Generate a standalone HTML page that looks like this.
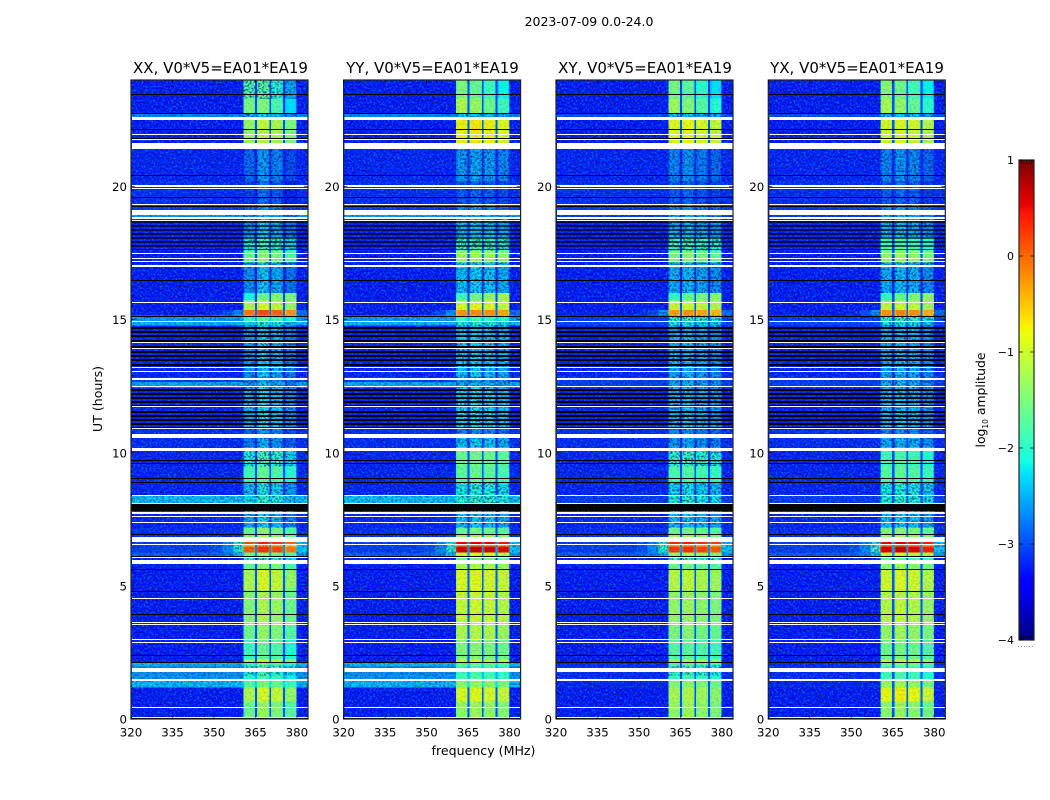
<!DOCTYPE html>
<html lang="en">
<head>
<meta charset="utf-8">
<title>2023-07-09 amplitude waterfall</title>
<style>
html,body{margin:0;padding:0;background:#fff;}
body{width:1050px;height:800px;overflow:hidden;}
svg{display:block;}
text{font-family:"DejaVu Sans","Liberation Sans",sans-serif;fill:#000;}
</style>
</head>
<body>
<svg id="figure" xmlns="http://www.w3.org/2000/svg" width="1050" height="800" viewBox="0 0 1050 800">
  <defs>
    <filter id="speckle-light" x="0" y="0" width="1" height="1" color-interpolation-filters="sRGB">
      <feTurbulence type="fractalNoise" baseFrequency="0.5" numOctaves="2" seed="7"/>
      <feColorMatrix type="matrix" values="0 0 0 0 0.05  0 0 0 0 0.5  0 0 0 0 1  3.4 0 0 0 -1.45"/>
    </filter>
    <filter id="speckle-dark" x="0" y="0" width="1" height="1" color-interpolation-filters="sRGB">
      <feTurbulence type="fractalNoise" baseFrequency="0.48" numOctaves="2" seed="23"/>
      <feColorMatrix type="matrix" values="0 0 0 0 0  0 0 0 0 0  0 0 0 0 0.35  0 3.4 0 0 -1.5"/>
    </filter>
  </defs>
  <text x="589" y="26" font-size="12.5" text-anchor="middle">2023-07-09 0.0-24.0</text>
  <text x="220.5" y="73" font-size="15" text-anchor="middle">XX, V0*V5=EA01*EA19</text>
  <text x="432.5" y="73" font-size="15" text-anchor="middle">YY, V0*V5=EA01*EA19</text>
  <text x="645" y="73" font-size="15" text-anchor="middle">XY, V0*V5=EA01*EA19</text>
  <text x="857" y="73" font-size="15" text-anchor="middle">YX, V0*V5=EA01*EA19</text>
  <text transform="translate(102,399) rotate(-90)" font-size="12.6" text-anchor="middle">UT (hours)</text>
  <text x="483.5" y="755" font-size="12.6" text-anchor="middle">frequency (MHz)</text>
  <text transform="translate(985,400) rotate(-90)" font-size="12.4" text-anchor="middle">log<tspan font-size="7.5" dy="3">10</tspan><tspan dy="-3"> amplitude</tspan></text>
  <text x="1026" y="647" font-size="6" fill="#555" text-anchor="middle" letter-spacing="0.8">......</text>
  <g id="panels"></g>
  <g id="colorbar"></g>
</svg>
<script>
// ---- chart data (UT hours, MHz, log10 amplitude) ----
const panelNames = ['xx', 'yy', 'xy', 'yx'];
const freqTicks = [320, 335, 350, 365, 380];
const utTicks = [0, 5, 10, 15, 20];
const colorbarTicks = [-4, -3, -2, -1, 0, 1];
const windowEdgesMHz = [[360.6, 364.8], [365.6, 370], [370.6, 375], [375.7, 379.9]];
const windowOffsetsXX = [-0.1, 0.15, 0.02, -0.25];
const windowOffsetsYY = [0.05, 0.1, 0.05, -0.05];
const windowOffsetsXY = [0.05, 0.1, 0, -0.1];
const windowOffsetsYX = [0.05, 0.12, 0.05, -0.12];

const segmentEdgesUT = [0, 0.65, 1.18, 1.45, 1.65, 2.0, 2.12, 2.25, 3.0, 3.6, 4.85, 5.6, 5.9, 6.05, 6.25, 6.47, 6.55, 6.65, 6.9, 7.2, 7.7, 8.1, 8.38, 8.9, 9.5, 10.2, 10.7, 10.95, 12.45, 12.65, 12.85, 14.78, 14.94, 15.15, 15.37, 15.72, 16.0, 17.15, 17.6, 18.1, 18.8, 19.1, 19.35, 20.2, 21.45, 21.6, 22.6, 22.75, 23.3, 24];
const backgroundParallel = [-3.3, -3.3, -2.35, -2.55, -2.6, -2.35, -3.3, -3.3, -3.3, -3.3, -3.3, -3.3, -3.3, -2.9, -3.1, -3.1, -3.1, -3.2, -3.2, -3.25, -3.2, -2.3, -3.25, -3.25, -3.25, -3.2, -3.2, -3.25, -2.45, -3.1, -3.25, -2.35, -2.5, -3.3, -3.3, -3.3, -3.3, -3.3, -3.25, -3.25, -2.5, -3.1, -3.2, -3.25, -2.95, -3.3, -2.65, -3.3, -3.3];
const backgroundCross = [-3.3, -3.3, -3.25, -3.2, -3.2, -3.2, -3.3, -3.3, -3.3, -3.3, -3.3, -3.3, -3.3, -2.9, -3.1, -3.1, -3.1, -3.2, -3.2, -3.25, -3.2, -3.1, -3.25, -3.25, -3.25, -3.2, -3.2, -3.25, -3.1, -3.1, -3.25, -3.05, -3.1, -3.3, -3.3, -3.3, -3.3, -3.3, -3.25, -3.25, -3.1, -3.1, -3.2, -3.25, -3.0, -3.3, -3.0, -3.3, -3.3];
const bandLevelsXX = [-1.45, -1.05, -1.6, -1.9, -2.0, -1.7, -1.15, -1.75, -1.45, -1.3, -1.05, -1.5, -2.0, -1.5, 0.15, -0.4, 0.25, -1.3, -1.5, -2.4, -2.4, -2.1, -2.3, -1.75, -2.0, -2.6, -2.7, -2.35, -2.5, -2.6, -2.45, -2.1, -1.8, 0.0, -1.05, -1.6, -2.5, -1.5, -2.0, -2.5, -2.5, -2.7, -2.9, -2.7, -2.7, -1.2, -2.4, -1.7, -1.95];
const bandLevelsYY = [-1.35, -0.95, -1.4, -1.8, -1.9, -1.6, -1.05, -1.5, -1.2, -1.05, -0.95, -1.2, -1.6, -1.0, 0.6, -0.3, 0.5, -1.3, -1.6, -2.4, -2.4, -2.05, -2.15, -1.7, -1.6, -2.4, -2.7, -2.3, -2.5, -2.6, -2.4, -2.1, -1.9, -0.3, -0.95, -1.5, -2.4, -1.3, -1.95, -2.45, -2.5, -2.7, -2.9, -2.6, -2.7, -0.8, -2.4, -1.5, -1.8];
const bandLevelsXY = [-1.35, -1.25, -1.45, -1.9, -2.0, -1.7, -1.2, -1.75, -1.5, -1.35, -1.15, -1.6, -2.0, -1.3, 0.2, -0.4, 0.3, -1.3, -1.6, -2.4, -2.4, -2.1, -2.3, -1.8, -2.0, -2.6, -2.7, -2.45, -2.5, -2.6, -2.5, -2.2, -2.0, -0.35, -1.05, -1.6, -2.5, -1.5, -1.95, -2.5, -2.5, -2.7, -2.9, -2.7, -2.7, -0.9, -2.4, -1.6, -1.85];
const bandLevelsYX = [-1.4, -0.85, -1.35, -1.85, -1.9, -1.5, -1.1, -1.6, -1.35, -1.15, -1.0, -1.4, -1.8, -1.1, 0.55, -0.2, 0.5, -1.3, -1.5, -2.4, -2.4, -2.1, -2.2, -1.75, -1.9, -2.5, -2.7, -2.45, -2.5, -2.6, -2.5, -2.2, -2.0, -0.3, -1.1, -1.6, -2.5, -1.35, -1.9, -2.5, -2.5, -2.7, -2.9, -2.7, -2.7, -1.0, -2.4, -1.55, -1.75];
const windowTilt = [0, 0, 0, 0, 0, 0, 0, 0, 0, 0, 0, 0, 0, 0, 0, 0, 0, 0, 0, 0, 0, 0, 0, 0, 0, 0, 0, 0, 0, 0, 0, 0, 0, 0, 0, 0.25, 0, 0, 0, 0, 0, 0, 0, 0, 0, 0, 0, -0.2, -0.2];
const shoulderLevels = [null, null, null, null, null, null, null, null, null, null, null, null, null, -2.4, -1.9, -2.0, -2.0, null, null, null, null, null, null, null, null, null, null, null, null, null, null, null, null, -2.6, null, null, null, null, null, null, null, null, null, null, null, null, null, null, null];

const whiteGapStartUT = [0.04, 0.41, 1.43, 1.75, 2.85, 2.95, 3.54, 3.6, 4.5, 5.84, 6.04, 6.53, 6.64, 7.35, 7.61, 7.69, 8.09, 8.37, 10.06, 10.57, 10.88, 11.71, 12.46, 12.72, 13.02, 13.17, 13.88, 14.11, 14.93, 15.65, 16.97, 17.17, 17.29, 17.49, 18.73, 18.79, 18.94, 19.3, 19.89, 20.0, 21.39, 21.56, 21.73, 21.95, 22.48];
const whiteGapEndUT = [0.07, 0.45, 1.5, 1.91, 2.89, 2.99, 3.57, 3.64, 4.54, 5.97, 6.08, 6.56, 6.84, 7.39, 7.64, 7.79, 8.13, 8.41, 10.18, 10.69, 10.92, 11.74, 12.5, 12.82, 13.06, 13.21, 13.92, 14.15, 14.96, 15.68, 17.07, 17.2, 17.32, 17.52, 18.76, 18.87, 19.1, 19.33, 19.93, 20.04, 21.55, 21.63, 21.77, 21.99, 22.6];
const blackLineUT = [0.03, 2.14, 2.39, 3.93, 4.81, 5.65, 6.13, 6.93, 8.9, 9.05, 9.6, 9.72, 15.14, 16.47, 19.27, 19.62, 20.43, 21.82, 22.16, 22.76, 23.48];
const thickBlackLineUT = [10.96, 11.1, 11.26, 11.41, 11.57, 11.81, 11.93, 12.09, 12.24, 12.41, 13.35, 13.51, 13.66, 13.82, 14.01, 14.25, 14.41, 14.57, 14.71];
const dimLineUT = [17.67, 17.75, 17.82, 17.9, 17.97, 18.05, 18.12, 18.2, 18.27, 18.35, 18.42, 18.5, 18.57, 18.65, 18.72];
const blackBlockStartUT = [7.82];
const blackBlockEndUT = [8.07];

// ---- layout and scales ----
const panelLeft = [131, 343.6, 556, 768.3];
const panelWidth = 177, plotTop = 80, plotBottom = 719;
const NS = 'http://www.w3.org/2000/svg';
function xScale(p, mhz) { return panelLeft[p] + (mhz - 320) / 64 * panelWidth; }
function yScale(ut) { return plotBottom - ut / 24 * (plotBottom - plotTop); }
function cbScale(v) { return 640 - (v + 4) / 5 * 480; }
function ramp(t, pts) {
  for (let i = 1; i < pts.length; i++) {
    if (t <= pts[i][0]) {
      const a = pts[i - 1], b = pts[i];
      return a[1] + (b[1] - a[1]) * (t - a[0]) / (b[0] - a[0]);
    }
  }
  return pts[pts.length - 1][1];
}
function jet(v) {
  const t = Math.min(1, Math.max(0, (v + 4) / 5));
  const r = ramp(t, [[0, 0], [0.35, 0], [0.66, 1], [0.89, 1], [1, 0.5]]);
  const g = ramp(t, [[0, 0], [0.125, 0], [0.375, 1], [0.64, 1], [0.91, 0], [1, 0]]);
  const b = ramp(t, [[0, 0.5], [0.11, 1], [0.34, 1], [0.65, 0], [1, 0]]);
  return 'rgb(' + Math.round(r * 255) + ',' + Math.round(g * 255) + ',' + Math.round(b * 255) + ')';
}
function make(tag, attrs, parent) {
  const el = document.createElementNS(NS, tag);
  for (const k in attrs) el.setAttribute(k, attrs[k]);
  parent.appendChild(el);
  return el;
}
function cell(parent, x0, x1, y0, y1, fill) {
  return make('rect', { x: x0, y: y0, width: Math.max(x1 - x0, 0.1), height: Math.max(y1 - y0, 1), fill: fill, 'shape-rendering': 'crispEdges' }, parent);
}

const panelBands = [bandLevelsXX, bandLevelsYY, bandLevelsXY, bandLevelsYX];
const panelOffsets = [windowOffsetsXX, windowOffsetsYY, windowOffsetsXY, windowOffsetsYX];
const panelBackgrounds = [backgroundParallel, backgroundParallel, backgroundCross, backgroundCross];
const panelsRoot = document.getElementById('panels');

panelNames.forEach(function (name, p) {
  const group = make('g', {}, panelsRoot);
  
  
  const right = xScale(p, 384);

  for (let s = 0; s < segmentEdgesUT.length - 1; s++) {
    const y0 = yScale(segmentEdgesUT[s + 1]), y1 = yScale(segmentEdgesUT[s]);
    const bg = panelBackgrounds[p][s];
    const sh = shoulderLevels[s] === null ? bg : shoulderLevels[s];
    const lvl = panelBands[p][s];
    const spans = [
      [320, 349, bg],
      [349, 353, bg + (sh - bg) * 0.1],
      [353, 357, bg + (sh - bg) * 0.4],
      [357, windowEdgesMHz[0][0], sh]
    ];
    windowEdgesMHz.forEach(function (edges, w) {
      const v = lvl + panelOffsets[p][w] + windowTilt[s] * (w - 1.5);
      const inner = 0.5;
      spans.push([edges[0], edges[0] + inner, v - 0.2]);
      spans.push([edges[0] + inner, edges[1] - inner, v]);
      spans.push([edges[1] - inner, edges[1], v - 0.15]);
      if (w < 3) spans.push([edges[1], windowEdgesMHz[w + 1][0], Math.max(bg, bg + (v - bg) * 0.15)]);
    });
    spans.push([windowEdgesMHz[3][1], 384, bg + (sh - bg) * 0.7]);
    spans.forEach(function (sp) {
      const el = cell(group, xScale(p, sp[0]), xScale(p, sp[1]), y0, y1, jet(sp[2]));
      
      
    });
  }

  [[320, 360.6, 1], [360.6, 379.9, 0.2], [379.9, 384, 1]].forEach(function (zone) {
    const zx = xScale(p, zone[0]), zw = xScale(p, zone[1]) - zx;
    const light = make('rect', { x: zx, y: plotTop, width: zw, height: plotBottom - plotTop, filter: 'url(#speckle-light)', opacity: 0.7 * zone[2] }, group);
    
    
    const dark = make('rect', { x: zx, y: plotTop, width: zw, height: plotBottom - plotTop, filter: 'url(#speckle-dark)', opacity: 0.45 * zone[2] }, group);
    
    
  });
  // weak rows are mottled across the spectral windows as well
  for (let s = 0; s < segmentEdgesUT.length - 1; s++) {
    if (panelBands[p][s] >= -1.9) continue;
    const zx = xScale(p, 360.6), zw = xScale(p, 379.9) - zx;
    const y0 = yScale(segmentEdgesUT[s + 1]), y1 = yScale(segmentEdgesUT[s]);
    const mottle = make('rect', { x: zx, y: y0, width: zw, height: y1 - y0, filter: 'url(#speckle-dark)', opacity: 0.6 }, group);
    
    
  }

  dimLineUT.forEach(function (ut) {
    const y = Math.round(yScale(ut));
    const el = cell(group, panelLeft[p], right, y, y + 1, '#000');
    el.setAttribute('opacity', 0.65);
    
    
  });
  blackLineUT.forEach(function (ut) {
    const y = Math.round(yScale(ut));
    const el = cell(group, panelLeft[p], right, y, y + 1, '#000');
    
    
  });
  thickBlackLineUT.forEach(function (ut) {
    const y = Math.round(yScale(ut));
    const el = cell(group, panelLeft[p], right, y, y + 2, '#000');
    
    
  });
  blackBlockStartUT.forEach(function (ut, i) {
    const el = cell(group, panelLeft[p], right, yScale(blackBlockEndUT[i]), yScale(ut), '#000');
    
    
  });
  whiteGapStartUT.forEach(function (ut, i) {
    const y0 = Math.round(yScale(whiteGapEndUT[i]));
    const y1 = Math.max(y0 + 1, Math.round(yScale(ut)));
    const el = cell(group, panelLeft[p] + 1, right, y0, y1, '#fff');
    
    
  });

  const frame = make('rect', { x: panelLeft[p], y: plotTop, width: panelWidth, height: plotBottom - plotTop, fill: 'none', stroke: '#222', 'stroke-width': 1.2 }, group);
  
  

  freqTicks.forEach(function (f) {
    const x = xScale(p, f);
    const t1 = make('line', { x1: x, x2: x, y1: plotBottom, y2: plotBottom - 4, stroke: '#000', 'stroke-width': 0.6 }, group);
    
    
    const t2 = make('line', { x1: x, x2: x, y1: plotTop, y2: plotTop + 4, stroke: '#000', 'stroke-width': 0.6 }, group);
    
    
    const label = make('text', { x: x, y: 736.5, 'font-size': 11.8, 'text-anchor': 'middle' }, group);
    
    
    label.textContent = String(f);
  });
  utTicks.forEach(function (u) {
    const y = yScale(u);
    const t1 = make('line', { x1: panelLeft[p], x2: panelLeft[p] + 4, y1: y, y2: y, stroke: '#000', 'stroke-width': 0.6 }, group);
    
    
    const t2 = make('line', { x1: right, x2: right - 4, y1: y, y2: y, stroke: '#000', 'stroke-width': 0.6 }, group);
    
    
    const label = make('text', { x: panelLeft[p] - 4, y: y + 4.5, 'font-size': 11.8, 'text-anchor': 'end' }, group);
    
    
    label.textContent = String(u);
  });
});

// ---- colorbar ----
const cbRoot = document.getElementById('colorbar');
const cbLeft = 1019, cbWidth = 15;
for (let v = -4; v < 1; v += 0.02) {
  const y1 = cbScale(v), y0 = cbScale(v + 0.02);
  const el = make('rect', { x: cbLeft, y: y0, width: cbWidth, height: y1 - y0 + 0.5, fill: jet(v + 0.01) }, cbRoot);
  
  
}
const cbFrame = make('rect', { x: cbLeft, y: 160, width: cbWidth, height: 480, fill: 'none', stroke: '#222', 'stroke-width': 1.2 }, cbRoot);


colorbarTicks.forEach(function (v) {
  const y = cbScale(v);
  const t1 = make('line', { x1: cbLeft, x2: cbLeft + 4, y1: y, y2: y, stroke: '#000', 'stroke-width': 0.7 }, cbRoot);
  
  
  const t2 = make('line', { x1: cbLeft + cbWidth, x2: cbLeft + cbWidth - 4, y1: y, y2: y, stroke: '#000', 'stroke-width': 0.7 }, cbRoot);
  
  
  const label = make('text', { x: cbLeft - 5, y: y + 4, 'font-size': 11, 'text-anchor': 'end' }, cbRoot);
  
  
  label.textContent = (v < 0 ? '\u2212' : '') + Math.abs(v);
});
for (let i = 1; i < 6; i++) {
  const x = cbLeft + i * cbWidth / 6;
  const a = make('line', { x1: x, x2: x, y1: 160, y2: 164, stroke: '#000', 'stroke-width': 0.6 }, cbRoot);
  
  
  const b = make('line', { x1: x, x2: x, y1: 640, y2: 636, stroke: '#000', 'stroke-width': 0.6 }, cbRoot);
  
  
}
</script>
</body>
</html>
